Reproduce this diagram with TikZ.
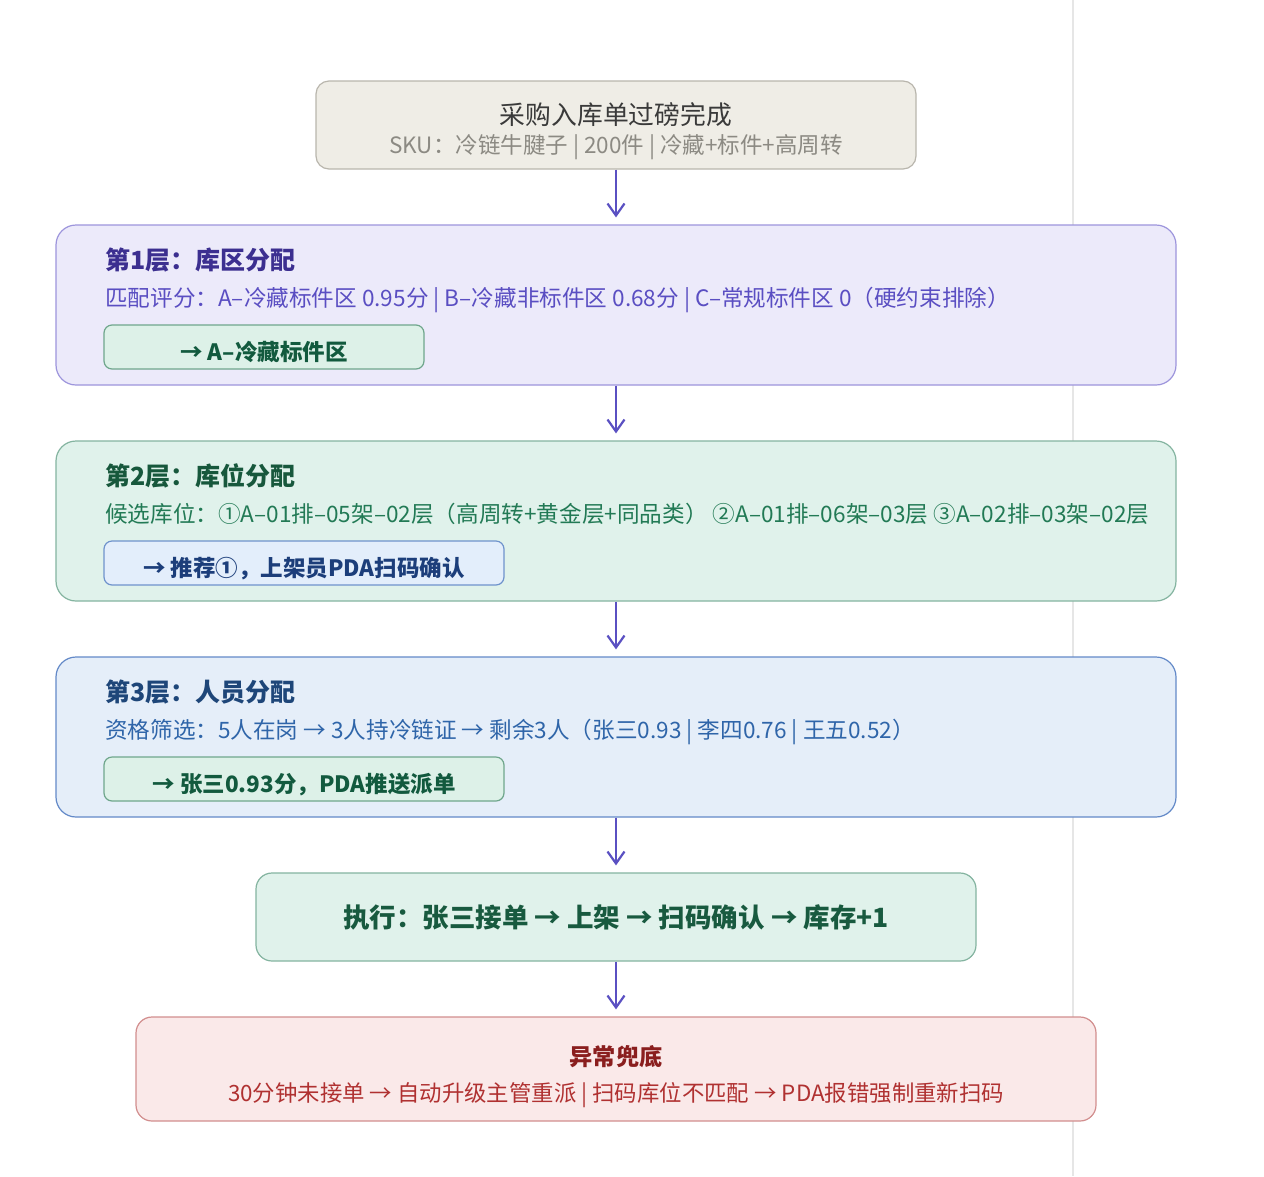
\documentclass[tikz,border=0pt]{standalone}
\usepackage{fontspec}
\setmainfont{Noto Sans CJK SC}
\usetikzlibrary{arrows.meta}
\definecolor{topfill}{HTML}{EFEDE6}
\definecolor{topdraw}{HTML}{B9B6AD}
\definecolor{toptitle}{HTML}{3A3A3A}
\definecolor{topsub}{HTML}{8C8A83}
\definecolor{lafill}{HTML}{ECEAFA}
\definecolor{ladraw}{HTML}{9D95DC}
\definecolor{lahead}{HTML}{3C2F90}
\definecolor{labody}{HTML}{5A4EC2}
\definecolor{grfill}{HTML}{E0F2EB}
\definecolor{grdraw}{HTML}{84B4A0}
\definecolor{lbhead}{HTML}{17583C}
\definecolor{lbbody}{HTML}{227A55}
\definecolor{sgfill}{HTML}{DDF1E8}
\definecolor{sgdraw}{HTML}{6FA68C}
\definecolor{sgtext}{HTML}{125A3E}
\definecolor{sbfill}{HTML}{E3EEFB}
\definecolor{sbdraw}{HTML}{6F93CC}
\definecolor{sbtext}{HTML}{1C3E7A}
\definecolor{lcfill}{HTML}{E5EEF9}
\definecolor{lcdraw}{HTML}{6389C8}
\definecolor{lchead}{HTML}{1E4679}
\definecolor{lcbody}{HTML}{2F65A9}
\definecolor{extext}{HTML}{185A3F}
\definecolor{erfill}{HTML}{FAE9E9}
\definecolor{erdraw}{HTML}{D28E8E}
\definecolor{erhead}{HTML}{8A1E1E}
\definecolor{erbody}{HTML}{B03131}
\definecolor{arrcol}{HTML}{5A50C2}
\definecolor{sideline}{HTML}{E6E6E6}
\begin{document}
\begin{tikzpicture}[x=1pt,y=-1pt,
  box/.style={draw, line width=1.2pt, inner sep=0pt},
  subbox/.style={box, rounded corners=8pt, minimum width=320pt, minimum height=44pt},
  txt/.style={anchor=base west, inner sep=0pt},
  ctxt/.style={anchor=base, inner sep=0pt},
  flow/.style={draw=arrcol, line width=2.2pt, shorten >=7pt, -{Straight Barb[length=12pt,width=17pt,line width=2.2pt]}},
  headf/.style={font=\fontsize{25}{30}\selectfont\bfseries},
  bodyf/.style={font=\fontsize{22.6}{27}\selectfont},
  subf/.style={font=\fontsize{22.5}{27}\selectfont\bfseries}]
\useasboundingbox[fill=white] (0,0) rectangle (1264,1176);
\draw[sideline, line width=1.5pt] (1073,0) -- (1073,1176);

% boxes
\node[box, fill=topfill, draw=topdraw, rounded corners=13pt, minimum width=600pt, minimum height=88pt] (top) at (616,125) {};
\node[box, fill=lafill, draw=ladraw, rounded corners=20pt, minimum width=1120pt, minimum height=160pt] (l1) at (616,305) {};
\node[box, fill=grfill, draw=grdraw, rounded corners=20pt, minimum width=1120pt, minimum height=160pt] (l2) at (616,521) {};
\node[box, fill=lcfill, draw=lcdraw, rounded corners=20pt, minimum width=1120pt, minimum height=160pt] (l3) at (616,737) {};
\node[box, fill=grfill, draw=grdraw, rounded corners=16pt, minimum width=720pt, minimum height=88pt] (ex) at (616,917) {};
\node[box, fill=erfill, draw=erdraw, rounded corners=16pt, minimum width=960pt, minimum height=104pt] (er) at (616,1069) {};

% sub boxes
\node[subbox, fill=sgfill, draw=sgdraw] (s1) at (264,347) {};
\node[subbox, fill=sbfill, draw=sbdraw, minimum width=400pt] (s2) at (304,563) {};
\node[subbox, fill=sgfill, draw=sgdraw, minimum width=400pt] (s3) at (304,779) {};

% top texts
\node[ctxt, font=\fontsize{25.8}{30}\selectfont, text=toptitle] (toptitle) at (616,124) {采购入库单过磅完成};
\node[ctxt, font=\fontsize{22.5}{27}\selectfont, text=topsub] (topsub) at (616,153.5) {SKU：冷链牛腱子 | 200件 | 冷藏+标件+高周转};

% layer 1
\node[txt, headf, text=lahead] (h1) at (105,269.5) {第1层：库区分配};
\node[txt, bodyf, text=labody] (b1) at (105,306) {匹配评分：A–冷藏标件区 0.95分 | B–冷藏非标件区 0.68分 | C–常规标件区 0（硬约束排除）};
\node[ctxt, subf, text=sgtext] (t1) at (264,360.5) {→ A–冷藏标件区};

% layer 2
\node[txt, headf, text=lbhead] (h2) at (105,485.5) {第2层：库位分配};
\node[txt, bodyf, text=lbbody] (b2) at (105,522) {候选库位：①A–01排–05架–02层（高周转+黄金层+同品类） ②A–01排–06架–03层 ③A–02排–03架–02层};
\node[ctxt, subf, text=sbtext] (t2) at (304,576.5) {→ 推荐①，上架员PDA扫码确认};

% layer 3
\node[txt, headf, text=lchead] (h3) at (105,701.5) {第3层：人员分配};
\node[txt, bodyf, text=lcbody] (b3) at (105,738) {资格筛选：5人在岗 → 3人持冷链证 → 剩余3人（张三0.93 | 李四0.76 | 王五0.52）};
\node[ctxt, subf, text=sgtext] (t3) at (304,792.5) {→ 张三0.93分，PDA推送派单};

% execution
\node[ctxt, font=\fontsize{26.5}{31}\selectfont\bfseries, text=extext] (et) at (616,927) {执行：张三接单 → 上架 → 扫码确认 → 库存+1};

% exception
\node[ctxt, font=\fontsize{23.2}{27}\selectfont\bfseries, text=erhead] (eh) at (616,1065.7) {异常兜底};
\node[ctxt, font=\fontsize{22.4}{27}\selectfont, text=erbody] (eb) at (616,1101.5) {30分钟未接单 → 自动升级主管重派 | 扫码库位不匹配 → PDA报错强制重新扫码};

% connectors
\draw[flow] (top.south) -- (l1.north);
\draw[flow] (l1.south) -- (l2.north);
\draw[flow] (l2.south) -- (l3.north);
\draw[flow] (l3.south) -- (ex.north);
\draw[flow] (ex.south) -- (er.north);
\end{tikzpicture}
\end{document}
